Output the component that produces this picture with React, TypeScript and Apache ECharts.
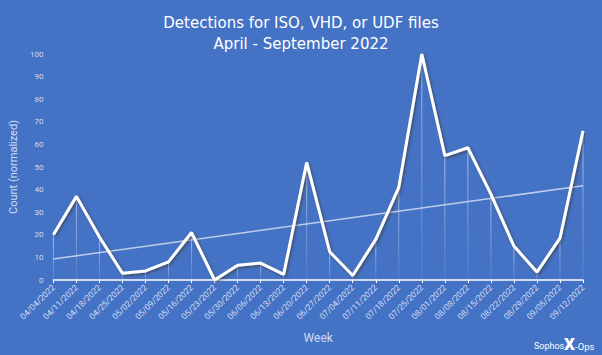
import React, { useEffect, useRef } from "react";
import * as echarts from "echarts";

const weeks = [
  "04/04/2022", "04/11/2022", "04/18/2022", "04/25/2022", "05/02/2022", "05/09/2022",
  "05/16/2022", "05/23/2022", "05/30/2022", "06/06/2022", "06/13/2022", "06/20/2022",
  "06/27/2022", "07/04/2022", "07/11/2022", "07/18/2022", "07/25/2022", "08/01/2022",
  "08/08/2022", "08/15/2022", "08/22/2022", "08/29/2022", "09/05/2022", "09/12/2022",
];
const counts = [20, 37, 19, 3, 4, 8, 21, 0, 6.5, 7.5, 2.5, 52, 12.5, 2, 18, 41, 100, 55, 58.5, 38, 15, 3.5, 18.5, 66];
const trendStart = 9.3;
const trendEnd = 41.7;
const yTicks = { min: 0, max: 100, interval: 10 };

const LABEL = "rgba(235,240,255,0.85)";

export default function App() {
  const ref = useRef<HTMLDivElement>(null);
  useEffect(() => {
    document.body.style.margin = "0";
    const chart = echarts.init(ref.current!, undefined, { renderer: "svg" });
    chart.setOption({
      animation: false,
      backgroundColor: "#4472c4",
      title: {
        text: "Detections for ISO, VHD, or UDF files\nApril - September 2022",
        left: "center",
        top: 7,
        textStyle: {
          color: "#ffffff",
          fontFamily: "DejaVu Sans",
          fontWeight: "normal",
          fontSize: 15,
          lineHeight: 21,
        },
      },
      grid: { left: 50, right: 19, top: 54, bottom: 75 },
      xAxis: {
        type: "category",
        data: weeks,
        boundaryGap: false,
        name: "Week",
        nameLocation: "middle",
        nameGap: 52,
        nameTextStyle: { color: LABEL, fontSize: 12, fontFamily: "Roboto" },
        axisLine: { lineStyle: { color: "#ffffff", width: 1.5 } },
        axisTick: { show: true, length: 3, lineStyle: { color: "#ffffff" } },
        axisLabel: {
          rotate: 45,
          color: LABEL,
          fontSize: 8.5,
          fontFamily: "Roboto",
          margin: 6,
          interval: 0,
        },
        splitLine: { show: false },
      },
      yAxis: {
        type: "value",
        min: yTicks.min,
        max: yTicks.max,
        interval: yTicks.interval,
        name: "Count (normalized)",
        nameLocation: "middle",
        nameGap: 28,
        nameTextStyle: { color: LABEL, fontSize: 11, fontFamily: "Roboto" },
        axisLine: { show: false },
        axisTick: { show: false },
        axisLabel: { color: LABEL, fontSize: 8, fontFamily: "Roboto", margin: 10 },
        splitLine: { show: false },
      },
      series: [
        {
          type: "bar",
          data: counts,
          barWidth: 1,
          silent: true,
          itemStyle: {
            color: new echarts.graphic.LinearGradient(0, 0, 0, 1, [
              { offset: 0, color: "rgba(255,255,255,0.55)" },
              { offset: 1, color: "rgba(255,255,255,0.08)" },
            ]),
          },
          z: 1,
        },
        {
          type: "line",
          data: [
            [weeks[0], trendStart],
            [weeks[weeks.length - 1], trendEnd],
          ],
          symbol: "none",
          lineStyle: { color: "rgba(220,228,245,0.8)", width: 1.5 },
          z: 2,
        },
        {
          type: "line",
          data: counts,
          symbol: "none",
          lineStyle: {
            color: "#ffffff",
            width: 3,
            shadowColor: "rgba(60,50,30,0.55)",
            shadowBlur: 2,
            shadowOffsetX: 1.5,
            shadowOffsetY: 1.5,
          },
          z: 3,
        },
      ],
      graphic: [
        {
          type: "text",
          x: 534,
          y: 341,
          style: { text: "Sophos", fill: "#ffffff", fontSize: 9, fontFamily: "Roboto" },
        },
        {
          type: "text",
          x: 564,
          y: 335,
          style: { text: "X", fill: "#ffffff", fontSize: 17, fontWeight: 900, fontFamily: "Roboto" },
        },
        {
          type: "text",
          x: 575,
          y: 341,
          style: { text: "-Ops", fill: "#ffffff", fontSize: 9.5, fontFamily: "Roboto" },
        },
      ],
    });
    return () => chart.dispose();
  }, []);
  return <div ref={ref} style={{ width: 602, height: 355 }} />;
}
